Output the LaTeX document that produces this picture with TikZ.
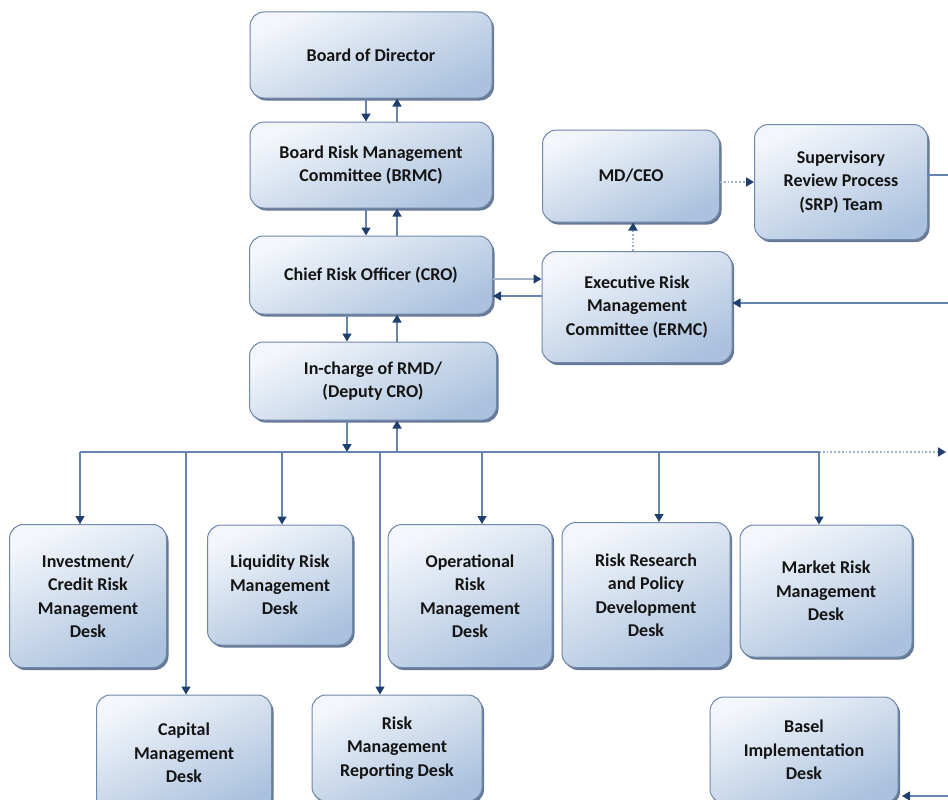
\documentclass[tikz,border=0pt]{standalone}
\usepackage{fontspec}
\setmainfont{Carlito}
\usetikzlibrary{arrows.meta,shadows}
\definecolor{boxtop}{HTML}{F3F6FB}
\definecolor{boxbot}{HTML}{ABC2DE}
\definecolor{boxedge}{HTML}{7088AA}
\definecolor{shadec}{HTML}{4D6284}
\definecolor{linec}{HTML}{6584AE}
\definecolor{lightline}{HTML}{A3B2C6}
\definecolor{dotc}{HTML}{9FB2CB}
\definecolor{tipc}{HTML}{1F3F6E}
\begin{document}
\begin{tikzpicture}[x=1pt,y=-1pt,
  box/.style={draw=boxedge, line width=1pt, rounded corners=14pt,
    top color=boxtop, bottom color=boxbot, shading angle=25,
    align=center, inner sep=0pt,
    font=\fontsize{18}{23.5}\selectfont\bfseries, text=black!92,
    drop shadow={shadow xshift=2pt, shadow yshift=-2.5pt, fill=shadec, opacity=0.85}},
  tip/.style={-{Triangle[width=9pt,length=8pt,color=tipc]}},
  arr/.style={draw=linec, line width=1.4pt, tip},
  plain/.style={draw=linec, line width=1.4pt},
  lightarr/.style={draw=lightline, line width=1.4pt, tip},
  dotarr/.style={draw=dotc, line width=1.8pt, dotted, tip}]
\clip (0,0) rectangle (948,800);
\fill[white] (0,0) rectangle (948,800);

% boxes
\node[box, minimum width=242pt, minimum height=86pt] (bod) at (371,55) {Board of Director};
\node[box, minimum width=242pt, minimum height=86pt] (brmc) at (371,165) {Board Risk Management\\Committee (BRMC)};
\node[box, minimum width=243pt, minimum height=78pt] (cro) at (371,275) {Chief Risk Officer (CRO)};
\node[box, minimum width=247pt, minimum height=78pt] (inch) at (373,381) {In-charge of RMD/\\(Deputy CRO)};
\node[box, minimum width=177pt, minimum height=92pt] (mdceo) at (631,176) {MD/CEO};
\node[box, minimum width=173pt, minimum height=115pt] (srp) at (841,182) {Supervisory\\Review Process\\(SRP) Team};
\node[box, minimum width=190pt, minimum height=111pt] (ermc) at (637,307) {Executive Risk\\Management\\Committee (ERMC)};

\node[box, minimum width=157pt, minimum height=143pt] (inv) at (88,596) {Investment/\\Credit Risk\\Management\\Desk};
\node[box, minimum width=145pt, minimum height=120pt] (liq) at (280,585) {Liquidity Risk\\Management\\Desk};
\node[box, minimum width=164pt, minimum height=143pt] (ops) at (470,596) {Operational\\Risk\\Management\\Desk};
\node[box, minimum width=168pt, minimum height=145pt] (rrp) at (646,595) {Risk Research\\and Policy\\Development\\Desk};
\node[box, minimum width=172pt, minimum height=132pt] (mkt) at (826,591) {Market Risk\\Management\\Desk};
\node[box, minimum width=175pt, minimum height=116pt] (cap) at (184,753) {Capital\\Management\\Desk};
\node[box, minimum width=170pt, minimum height=106pt] (rep) at (397,748) {Risk\\Management\\Reporting Desk};
\node[box, minimum width=188pt, minimum height=106pt] (bas) at (804,750) {Basel\\Implementation\\Desk};

% helper coordinates
\coordinate (xa) at (366,0);
\coordinate (xb) at (397,0);
\coordinate (xc) at (347,0);
\coordinate (xm) at (633,0);
\coordinate (y1) at (0,279);
\coordinate (y2) at (0,296);
\coordinate (y3) at (0,182);
\coordinate (b1) at (80,452);
\coordinate (b2) at (186,452);
\coordinate (b3) at (282,452);
\coordinate (b4) at (380,452);
\coordinate (b5) at (482,452);
\coordinate (b6) at (659,452);
\coordinate (b7) at (819,452);
\coordinate (bend) at (946,452);
\coordinate (bc) at (347,452);
\coordinate (bu) at (397,452);
\coordinate (e1) at (948,175);
\coordinate (e2) at (948,303);
\coordinate (e3) at (948,796);
\coordinate (t3) at (902,796);

% vertical chain
\draw[arr] (bod.south -| xa) -- (brmc.north -| xa);
\draw[arr] (brmc.north -| xb) -- (bod.south -| xb);
\draw[arr] (brmc.south -| xa) -- (cro.north -| xa);
\draw[arr] (cro.north -| xb) -- (brmc.south -| xb);
\draw[arr] (cro.south -| xc) -- (inch.north -| xc);
\draw[arr] (inch.north -| xb) -- (cro.south -| xb);
\draw[arr] (inch.south -| xc) -- (bc);
\draw[arr] (bu) -- (inch.south -| xb);

% CRO <-> ERMC
\draw[lightarr] (cro.east |- y1) -- (ermc.west |- y1);
\draw[arr] (ermc.west |- y2) -- (cro.east |- y2);

% ERMC -> MD/CEO -> SRP
\draw[dotarr] (ermc.north -| xm) -- (mdceo.south -| xm);
\draw[dotarr] (mdceo.east |- y3) -- (srp.west |- y3);

% right edge lines
\draw[plain] (srp.east |- e1) -- (e1);
\draw[arr] (e2) -- (ermc.east |- e2);
\draw[arr] (e3) -- (t3);

% bus
\draw[plain] (b1) -- (b7);
\draw[dotarr] (b7) -- (bend);
\draw[arr] (b1) -- (b1 |- inv.north);
\draw[arr] (b2) -- (b2 |- cap.north);
\draw[arr] (b3) -- (b3 |- liq.north);
\draw[arr] (b4) -- (b4 |- rep.north);
\draw[arr] (b5) -- (b5 |- ops.north);
\draw[arr] (b6) -- (b6 |- rrp.north);
\draw[arr] (b7) -- (b7 |- mkt.north);
\end{tikzpicture}
\end{document}
